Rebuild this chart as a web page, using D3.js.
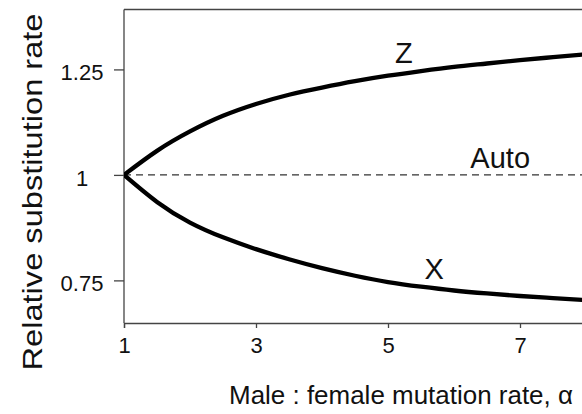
<!DOCTYPE html>
<html>
<head>
<meta charset="utf-8">
<script src="https://cdn.jsdelivr.net/npm/d3@7"></script>
<style>
  html, body { margin: 0; padding: 0; background: #fff; }
  svg { display: block; }
  text { font-family: "Liberation Sans", Arial, Helvetica, sans-serif; fill: #111; }
</style>
</head>
<body>
<svg id="chart" width="582" height="414"></svg>
<script>
// ---- data ----
const alpha = [1, 1.5, 2, 2.5, 3, 3.5, 4, 4.5, 5, 5.5, 6, 6.5, 7, 7.5, 8];
const zRate = [1.000, 1.057, 1.103, 1.140, 1.168, 1.190, 1.207, 1.222, 1.235, 1.246, 1.256, 1.264, 1.272, 1.279, 1.286];
const xRate = [1.000, 0.936, 0.887, 0.852, 0.824, 0.800, 0.779, 0.761, 0.746, 0.735, 0.726, 0.719, 0.713, 0.708, 0.703];
const autoRate = [1, 1];
const autoAlpha = [1, 8];
const xTicks = [1, 3, 5, 7];
const yTicks = [0.75, 1, 1.25];
const yTickLabels = ["0.75", "1", "1.25"];
const seriesLabels = [
  { name: "Z", a: 5.24, v: 1.266 },
  { name: "Auto", a: 6.70, v: 1.016 },
  { name: "X", a: 5.70, v: 0.753 }
];
const xTitle = "Male : female mutation rate, \u03b1";
const yTitle = "Relative substitution rate";

// ---- layout ----
const svg = d3.select("#chart");
const mLeft = 124, mTop = 9.5, mBottom = 323;
const x = d3.scaleLinear().domain([1, 8]).range([mLeft, 586]);
const y = d3.scaleLinear().domain([0.649, 1.392]).range([mBottom, mTop]);

// frame lines (left, top, bottom)
const frameColor = "#444";
svg.append("line").attr("x1", mLeft).attr("x2", mLeft).attr("y1", mTop).attr("y2", mBottom)
  .attr("stroke", frameColor).attr("stroke-width", 1.3);
svg.append("line").attr("x1", mLeft).attr("x2", 582).attr("y1", mTop).attr("y2", mTop)
  .attr("stroke", frameColor).attr("stroke-width", 1.3);

// x axis
const xAxis = d3.axisBottom(x).tickValues(xTicks).tickSize(5).tickPadding(9).tickFormat(d3.format("d"));
const gx = svg.append("g").attr("transform", `translate(0,${mBottom})`).call(xAxis);
gx.select(".domain").attr("stroke", frameColor).attr("stroke-width", 1.3);
gx.selectAll(".tick line").attr("stroke", frameColor).attr("stroke-width", 1.3);
gx.selectAll(".tick text").attr("font-size", 22).attr("fill", "#111")
  .attr("font-family", "'Liberation Sans', Arial, sans-serif");

// y axis
const yAxis = d3.axisLeft(y).tickValues(yTicks).tickSize(10)
  .tickFormat((d, i) => yTickLabels[i]);
const gy = svg.append("g").attr("transform", `translate(${mLeft},0)`).call(yAxis);
gy.select(".domain").remove();
gy.selectAll(".tick line").attr("stroke", frameColor).attr("stroke-width", 1.3);
gy.selectAll(".tick text").attr("font-size", 22).attr("fill", "#111")
  .attr("font-family", "'Liberation Sans', Arial, sans-serif")
  .attr("text-anchor", "middle").attr("x", -42).attr("dy", "0.48em");

// clip to plot area
svg.append("clipPath").attr("id", "clip").append("rect")
  .attr("x", mLeft).attr("y", mTop).attr("width", 582 - mLeft).attr("height", mBottom - mTop);
const plot = svg.append("g").attr("clip-path", "url(#clip)");

// auto dashed line
const autoLine = d3.line().x((d, i) => x(autoAlpha[i])).y(d => y(d));
plot.append("path").datum(autoRate).attr("d", autoLine)
  .attr("fill", "none").attr("stroke", "#333").attr("stroke-width", 1.2)
  .attr("stroke-dasharray", "7,5");

// curves
const curveLine = d3.line().x((d, i) => x(alpha[i])).y(d => y(d)).curve(d3.curveNatural);
plot.append("path").datum(zRate).attr("d", curveLine)
  .attr("fill", "none").attr("stroke", "#000").attr("stroke-width", 4.3);
plot.append("path").datum(xRate).attr("d", curveLine)
  .attr("fill", "none").attr("stroke", "#000").attr("stroke-width", 4.3);

// series labels
svg.selectAll("text.series").data(seriesLabels).enter().append("text")
  .attr("class", "series")
  .attr("x", d => x(d.a)).attr("y", d => y(d.v))
  .attr("text-anchor", "middle").attr("font-size", 29)
  .text(d => d.name);

// axis titles
svg.append("text").attr("x", 401).attr("y", 404).attr("text-anchor", "middle")
  .attr("font-size", 26).attr("textLength", 344).attr("lengthAdjust", "spacingAndGlyphs")
  .text(xTitle);
svg.append("text").attr("transform", "translate(42,192) rotate(-90)")
  .attr("text-anchor", "middle").attr("font-size", 28)
  .attr("textLength", 357).attr("lengthAdjust", "spacingAndGlyphs")
  .text(yTitle);
</script>
</body>
</html>
